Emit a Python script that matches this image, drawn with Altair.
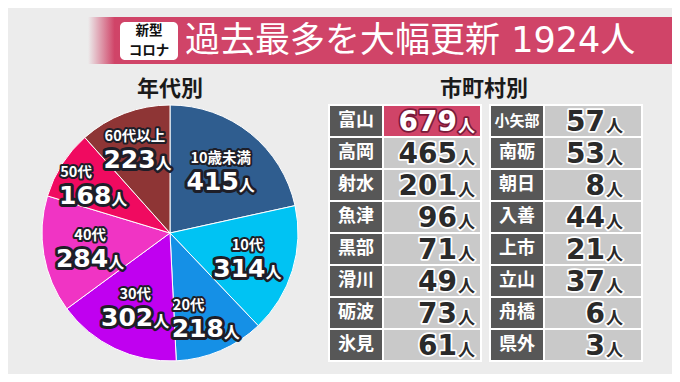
import altair as alt
import pandas as pd

OX, OY = 8, 8  # page margin

# ---------------- data ----------------
title_badge = ["新型", "コロナ"]
title_text = "過去最多を大幅更新 1924人"
pie_title = "年代別"
table_title = "市町村別"

age_groups = ["10歳未満", "10代", "20代", "30代", "40代", "50代", "60代以上"]
age_counts = [415, 314, 218, 302, 284, 168, 223]
age_colors = ["#2f5d8f", "#00c3f3", "#1590e6", "#c000f0", "#f034c4", "#f00a60", "#8e3535"]

cities_left = ["富山", "高岡", "射水", "魚津", "黒部", "滑川", "砺波", "氷見"]
counts_left = [679, 465, 201, 96, 71, 49, 73, 61]
cities_right = ["小矢部", "南砺", "朝日", "入善", "上市", "立山", "舟橋", "県外"]
counts_right = [57, 53, 8, 44, 21, 37, 6, 3]
highlight_city = "富山"

# ---------------- styles ----------------
BG = "#ececec"
PINK = "#d04468"
JP = "Noto Sans CJK JP"
NUM = "DejaVu Sans, Noto Sans CJK JP"
DARK_OUT = "#1e1e28"

one = pd.DataFrame({"k": [0]})

# ---------------- title bar ----------------
bar = alt.Chart(one).mark_rect(
    color=alt.Gradient(
        gradient="linear", x1=0, x2=1, y1=0, y2=0,
        stops=[alt.GradientStop(color="rgba(208,68,104,0)", offset=0),
               alt.GradientStop(color=PINK, offset=0.045),
               alt.GradientStop(color=PINK, offset=1)])
).encode(x=alt.value(88 - OX), x2=alt.value(672), y=alt.value(17 - OY), y2=alt.value(64 - OY))

badge = alt.Chart(one).mark_rect(color="white", cornerRadius=5).encode(
    x=alt.value(120 - OX), x2=alt.value(178 - OX), y=alt.value(22 - OY), y2=alt.value(60 - OY))
badge_t1 = alt.Chart(one).mark_text(text=title_badge[0], font=JP, fontWeight="bold", fontSize=13.5,
                                    color="#111", align="center", baseline="middle").encode(
    x=alt.value(149 - OX), y=alt.value(31 - OY))
badge_t2 = alt.Chart(one).mark_text(text=title_badge[1], font=JP, fontWeight="bold", fontSize=13.5,
                                    color="#111", align="center", baseline="middle").encode(
    x=alt.value(149 - OX), y=alt.value(50.5 - OY))
title = alt.Chart(one).mark_text(text=title_text, font=NUM, fontSize=35, color="white",
                                 align="left", baseline="middle").encode(
    x=alt.value(185 - OX), y=alt.value(41 - OY))

sec1 = alt.Chart(one).mark_text(text=pie_title, font=JP, fontWeight="bold", fontSize=22,
                                color="#1a1a1a", align="center", baseline="middle").encode(
    x=alt.value(170 - OX), y=alt.value(89 - OY))
sec2 = alt.Chart(one).mark_text(text=table_title, font=JP, fontWeight="bold", fontSize=22,
                                color="#1a1a1a", align="center", baseline="middle").encode(
    x=alt.value(484 - OX), y=alt.value(89 - OY))

# ---------------- pie ----------------
pie_df = pd.DataFrame({"group": age_groups, "count": age_counts, "idx": list(range(len(age_groups)))})
CX, CY, R = 170 - OX, 233 - OY, 128

arcs = alt.Chart(pie_df).mark_arc(outerRadius=R, stroke="white", strokeWidth=1).encode(
    theta=alt.Theta("count:Q", stack=True),
    order=alt.Order("idx:Q"),
    x=alt.value(CX), y=alt.value(CY),
    color=alt.Color("group:N", scale=alt.Scale(domain=age_groups, range=age_colors), legend=None))

# label angle = middle of each slice (cumulative sum), narrow slices' labels sit further out
lab_base = alt.Chart(pie_df).transform_window(
    cum="sum(count)", sort=[alt.SortField("idx")], frame=[None, 0]
).transform_calculate(
    mid="datum.cum - datum.count / 2",
    narrow="datum.count < 250",
    lr="datum.count < 250 ? 91 : 81",
).encode(
    theta=alt.Theta("mid:Q", stack=False),
    radius=alt.Radius("lr:Q", scale=None),
    x=alt.value(CX), y=alt.value(CY),
)

def outlined(base, text_enc, out_w, **kw):
    o = base.mark_text(stroke=DARK_OUT, strokeWidth=out_w, strokeJoin="round", color=DARK_OUT,
                       **kw).encode(text=text_enc)
    f = base.mark_text(color="white", **kw).encode(text=text_enc)
    return [o, f]

cat_kw = dict(font=JP, fontWeight="bold", fontSize=14.5, baseline="middle", dy=-11)
pie_cat = (outlined(lab_base.transform_filter("!datum.narrow"), alt.Text("group:N"), 4,
                    align="center", **cat_kw)
           + outlined(lab_base.transform_filter("datum.narrow"), alt.Text("group:N"), 4,
                      align="left", dx=-33, **cat_kw))
pie_num = outlined(lab_base, alt.Text("count:Q"), 6, font="DejaVu Sans", fontWeight="bold",
                   fontSize=25, align="right", baseline="alphabetic", dx=18, dy=20)
pie_unit = outlined(lab_base, alt.value("人"), 5, font=JP, fontWeight="bold",
                    fontSize=16, align="left", baseline="alphabetic", dx=18, dy=21)

# ---------------- tables ----------------
yenc = alt.Y("row:O", scale=alt.Scale(domain=list(range(8)), range=[106 - OY, 360 - OY],
                                       paddingInner=0.0625, paddingOuter=0), axis=None)

def table_layers(names, counts, lx0, lx1, vx1, num_right):
    df = pd.DataFrame({"name": names, "count": counts, "row": list(range(len(names)))})
    base = alt.Chart(df).transform_calculate(
        hl=f"datum.name === '{highlight_city}'",
        fs="length(datum.name) > 2 ? 15 : 18",
    ).encode(y=yenc)
    back = alt.Chart(one).mark_rect(color="white").encode(
        x=alt.value(lx0 - 2 - OX), x2=alt.value(vx1 + 2 - OX),
        y=alt.value(104 - OY), y2=alt.value(362 - OY))
    lab = base.mark_rect(color="#575757").encode(x=alt.value(lx0 - OX), x2=alt.value(lx1 - OX))
    val = base.mark_rect().encode(
        x=alt.value(lx1 + 2 - OX), x2=alt.value(vx1 - OX),
        color=alt.condition("datum.hl", alt.value(PINK), alt.value("#c9c9c9")))
    lab_t = base.mark_text(font=JP, fontWeight="bold", color="white", align="center",
                           baseline="middle").encode(
        x=alt.value((lx0 + lx1) / 2 - OX), text="name:N", size=alt.Size("fs:Q", scale=None))
    layers = [back, lab, val, lab_t]
    for txt, kw in [(alt.Text("count:Q"), dict(font="DejaVu Sans", fontWeight="bold", fontSize=28,
                                                 align="right", dy=10, xo=0)),
                    (alt.value("人"), dict(font=JP, fontWeight="bold", fontSize=17,
                                          align="left", dy=11, xo=1))]:
        xo = kw.pop("xo")
        o = base.mark_text(baseline="alphabetic", strokeWidth=3.5, strokeJoin="round", **kw).encode(
            x=alt.value(num_right + xo - OX), text=txt,
            stroke=alt.condition("datum.hl", alt.value("#7a1a38"), alt.value("white")),
            color=alt.condition("datum.hl", alt.value("#7a1a38"), alt.value("white")))
        f = base.mark_text(baseline="alphabetic", **kw).encode(
            x=alt.value(num_right + xo - OX), text=txt,
            color=alt.condition("datum.hl", alt.value("white"), alt.value("#2a2a2a")))
        layers += [o, f]
    return layers

left = table_layers(cities_left, counts_left, 330, 382, 480, 457)
right = table_layers(cities_right, counts_right, 491, 543, 641, 605)

chart = alt.layer(
    bar, badge, badge_t1, badge_t2, title, sec1, sec2,
    arcs, *pie_cat, *pie_num, *pie_unit,
    *left, *right,
).properties(
    width=664, height=366, padding=0,
    autosize=alt.AutoSizeParams(type="none"),
    background=BG,
).configure_view(stroke=None)

chart.save("out.html", embed_options={"renderer": "svg", "actions": False})
